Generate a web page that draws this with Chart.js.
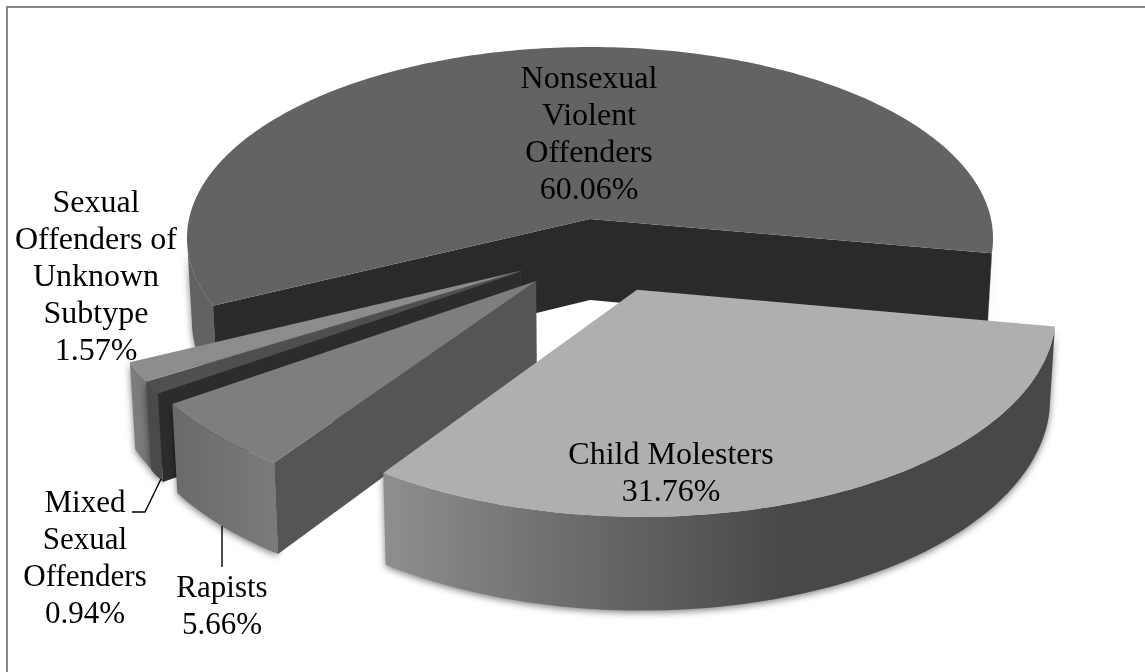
<!DOCTYPE html>
<html>
<head>
<meta charset="utf-8">
<title>Offender groups</title>
<script src="https://cdn.jsdelivr.net/npm/chart.js@4/dist/chart.umd.js"></script>
<style>
    html, body { margin: 0; padding: 0; background: #fff; }
    canvas { display: block; }
</style>
</head>
<body>
<canvas id="offenderPie" width="1145" height="672"></canvas>
<script>
const categories = ['Nonsexual Violent Offenders', 'Child Molesters', 'Rapists', 'Mixed Sexual Offenders', 'Sexual Offenders of Unknown Subtype'];
const shares = [60.06, 31.76, 5.66, 0.94, 1.57];
const labelLines = [
    ['Nonsexual', 'Violent', 'Offenders'],
    ['Child Molesters'],
    ['Rapists'],
    ['Mixed', 'Sexual', 'Offenders'],
    ['Sexual', 'Offenders of', 'Unknown', 'Subtype']
];

// slice styling, same order as categories
const topColors = ['#636363', '#afafaf', '#7e7e7e', '#4f4f4f', '#8c8c8c'];
const radialWallColors = ['#2a2a2a', '#3a3a3a', '#555555', '#2c2c2c', '#5a5a5a'];
const rimStops = [
    [[0, '#626262'], [1, '#5c5c5c']],
    [[0, '#8e8e8e'], [0.36, '#636363'], [0.6, '#484848'], [1, '#484848']],
    [[0, '#6a6a6a'], [1, '#7a7a7a']],
    [[0, '#4a4a4a'], [1, '#4a4a4a']],
    [[0, '#7f7f7f'], [1, '#777777']]
];
// how far each slice is pulled out of the pie, in radii on the ground plane
const sliceShift = [[0, 0], [0.113, 0.36], [-0.13, 0.317], [-0.168, 0.27], [-0.168, 0.266]];
const paintOrder = [0, 4, 3, 2, 1];

// [centre x, first baseline] for every label
const labelAnchors = [[589, 88], [671, 464], [222, 597], [85, 512], [96, 212]];
const labelSizes = [32, 32, 31, 31, 32];
const LINE_HEIGHT = 37;

// perspective of the pie's ground plane
const VIEW = { x: 590, y: 219, a: 401, b: 189.2, p: 0.1, depth: 81, taper: 0.988 };

function project(u, v, lowered) {
    const w = 1 - VIEW.p * v;
    const x = VIEW.a * u / w;
    return {
        x: VIEW.x + (lowered ? x * VIEW.taper : x),
        y: VIEW.y + VIEW.b * v / w + (lowered ? VIEW.depth / w : 0)
    };
}

function rimPoint(shift, angle, lowered) {
    return project(shift[0] + Math.cos(angle), shift[1] + Math.sin(angle), lowered);
}

function sampleAngles(start, end) {
    const n = Math.max(2, Math.ceil((end - start) / (Math.PI / 180)));
    const out = [];
    for (let i = 0; i <= n; i++) out.push(start + (end - start) * i / n);
    return out;
}

function tracePoints(ctx, points) {
    ctx.beginPath();
    points.forEach((pt, i) => i ? ctx.lineTo(pt.x, pt.y) : ctx.moveTo(pt.x, pt.y));
    ctx.closePath();
}

function drawRim(ctx, arc, index) {
    const shift = sliceShift[index];
    const angles = sampleAngles(arc.startAngle, arc.endAngle);
    const xs = angles.map(a => rimPoint(shift, a, false).x);
    const grad = ctx.createLinearGradient(Math.min(...xs), 0, Math.max(...xs), 0);
    rimStops[index].forEach(s => grad.addColorStop(s[0], s[1]));

    // only the part of the rim that faces the viewer
    const runs = [];
    let run = null;
    angles.forEach(a => {
        if (Math.sin(a) > 0.09) {
            if (!run) { run = []; runs.push(run); }
            run.push(a);
        } else {
            run = null;
        }
    });

    ctx.save();
    ctx.shadowColor = 'rgba(0, 0, 0, 0.5)';
    ctx.shadowBlur = 7;
    ctx.shadowOffsetY = 2;
    ctx.fillStyle = grad;
    runs.forEach(r => {
        const upper = r.map(a => rimPoint(shift, a, false));
        const lower = r.map(a => rimPoint(shift, a, true)).reverse();
        tracePoints(ctx, upper.concat(lower));
        ctx.fill();
    });
    ctx.restore();
}

function drawRadialWall(ctx, arc, index, angle) {
    const shift = sliceShift[index];
    ctx.fillStyle = radialWallColors[index];
    tracePoints(ctx, [
        project(shift[0], shift[1], false),
        rimPoint(shift, angle, false),
        rimPoint(shift, angle, true),
        project(shift[0], shift[1], true)
    ]);
    ctx.fill();
}

function drawTop(ctx, arc, index) {
    const shift = sliceShift[index];
    const points = sampleAngles(arc.startAngle, arc.endAngle).map(a => rimPoint(shift, a, false));
    points.push(project(shift[0], shift[1], false));
    ctx.fillStyle = arc.options.backgroundColor;
    tracePoints(ctx, points);
    ctx.fill();
}

const extrudedPie = {
    id: 'extrudedPie',
    // the arcs keep their angles from the controller, only the painting is replaced
    beforeDatasetDraw(chart, args) {
        const ctx = chart.ctx;
        const arcs = args.meta.data;
        paintOrder.forEach(i => {
            const arc = arcs[i];
            drawRim(ctx, arc, i);
            if (Math.cos(arc.startAngle) < 0) drawRadialWall(ctx, arc, i, arc.startAngle);
            if (Math.cos(arc.endAngle) > 0) drawRadialWall(ctx, arc, i, arc.endAngle);
            drawTop(ctx, arc, i);
        });
        return false;
    },
    afterDraw(chart) {
        const ctx = chart.ctx;
        ctx.save();

        // frame runs along the top and left edges only
        ctx.strokeStyle = '#868686';
        ctx.lineWidth = 2;
        ctx.beginPath();
        ctx.moveTo(7, 672);
        ctx.lineTo(7, 7);
        ctx.lineTo(1145, 7);
        ctx.stroke();

        ctx.fillStyle = '#000';
        ctx.textAlign = 'center';
        ctx.textBaseline = 'alphabetic';
        labelLines.forEach((lines, i) => {
            ctx.font = labelSizes[i] + 'px "Liberation Serif"';
            const text = lines.concat(shares[i].toFixed(2) + '%');
            text.forEach((line, j) => {
                ctx.fillText(line, labelAnchors[i][0], labelAnchors[i][1] + j * LINE_HEIGHT);
            });
        });

        // leader lines for the two small labels at the bottom left
        ctx.strokeStyle = '#000';
        ctx.lineWidth = 1.4;
        ctx.beginPath();
        ctx.moveTo(222, 526);
        ctx.lineTo(222, 567);
        ctx.moveTo(132, 512);
        ctx.lineTo(145, 512);
        ctx.lineTo(161, 479);
        ctx.stroke();

        ctx.restore();
    }
};

new Chart(document.getElementById('offenderPie'), {
    type: 'pie',
    data: {
        labels: categories,
        datasets: [{
            data: shares,
            backgroundColor: topColors,
            borderWidth: 0
        }]
    },
    options: {
        responsive: false,
        animation: false,
        rotation: 244,
        events: [],
        plugins: {
            legend: { display: false },
            tooltip: { enabled: false }
        }
    },
    plugins: [extrudedPie]
});
</script>
</body>
</html>
